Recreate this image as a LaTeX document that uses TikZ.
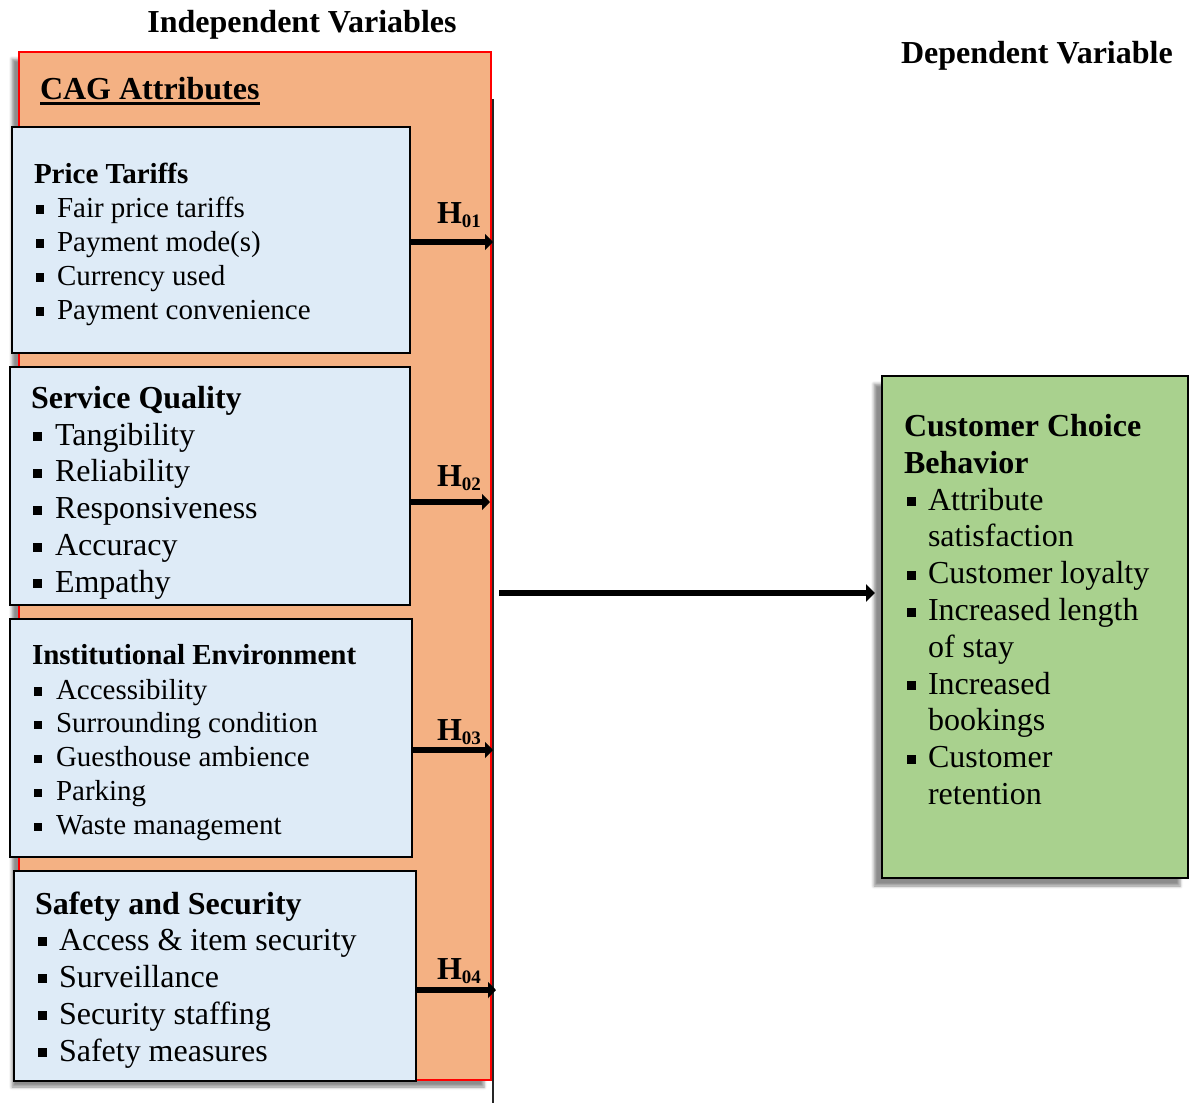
\documentclass[tikz,border=0pt]{standalone}
\usepackage{fontspec}
\setmainfont{Liberation Serif}
\usetikzlibrary{arrows.meta,shadows.blur}
\definecolor{orangefill}{HTML}{F4B183}
\definecolor{bluefill}{HTML}{DEEBF7}
\definecolor{greenfill}{HTML}{A9D18E}
\definecolor{redline}{HTML}{FF0000}
\newcommand{\bulsq}{\rule[0.12em]{0.28em}{0.28em}}
\newcommand{\hyp}[1]{\textbf{H\raisebox{-4pt}{\fontsize{19}{19}\selectfont\bfseries #1}}}
\begin{document}
\begin{tikzpicture}[x=1pt,y=-1pt,
  txt/.style={inner sep=0pt, outer sep=0pt, anchor=base west},
  sA/.style={txt, font=\fontsize{29}{34}\selectfont},
  sB/.style={txt, font=\fontsize{32}{37}\selectfont},
  hA/.style={txt, font=\fontsize{29}{34}\selectfont\bfseries},
  hB/.style={txt, font=\fontsize{32}{37}\selectfont\bfseries},
  boxbase/.style={rectangle, inner sep=0pt, outer sep=0pt, anchor=north west},
  orangebox/.style={boxbase, draw=redline, line width=2pt, fill=orangefill,
    blur shadow={shadow xshift=-7pt, shadow yshift=-7pt, shadow blur radius=3pt, shadow opacity=45}},
  bluebox/.style={boxbase, draw=black, line width=2.6pt, fill=bluefill},
  greenbox/.style={boxbase, draw=black, line width=2.8pt, fill=greenfill,
    blur shadow={shadow xshift=-8pt, shadow yshift=-8pt, shadow blur radius=3pt, shadow opacity=45}},
  harrow/.style={line width=6pt, -{Triangle[length=8pt,width=16pt]}},
  vline/.style={line width=1.3pt, black!85}
]
\useasboundingbox (0,0) rectangle (1191,1103);

% titles
\node[txt, font=\fontsize{32}{37}\selectfont\bfseries, anchor=base] (indep) at (302,32) {Independent Variables};
\node[hB] (dep) at (901,63) {Dependent Variable};

% orange container
\node[orangebox, minimum width=472pt, minimum height=1028pt] (cag) at (19,52) {};
\coordinate (vtop) at (493,99);
\coordinate (vbot) at (493,1103);
\draw[vline] (vtop) -- (vbot);

\node[hB] (cagt) at (40,99) {CAG Attributes};
\draw[line width=2.4pt] ([yshift=-4.5pt]cagt.base west) -- ([yshift=-4.5pt]cagt.base east);

% box 1
\node[bluebox, minimum width=398pt, minimum height=226pt] (b1) at (12,127) {};
\node[hA] (b1h) at (34,183) {Price Tariffs};
\foreach \t [count=\i from 0] in {Fair price tariffs, Payment mode(s), Currency used, Payment convenience}
  \node[sA] (p\i) at (36,{217+34*\i}) {\makebox[21pt][l]{\bulsq}\t};

% box 2
\node[bluebox, minimum width=400pt, minimum height=238pt] (b2) at (10,367) {};
\node[hB] (b2h) at (31,408) {Service Quality};
\foreach \t [count=\i from 0] in {Tangibility, Reliability, Responsiveness, Accuracy, Empathy}
  \node[sB] (q\i) at (33,{445+36.8*\i}) {\makebox[22pt][l]{\bulsq}\t};

% box 3
\node[bluebox, minimum width=402pt, minimum height=238pt] (b3) at (10,619) {};
\node[hA] (b3h) at (32,664) {Institutional Environment};
\foreach \t [count=\i from 0] in {Accessibility, Surrounding condition, Guesthouse ambience, Parking, Waste management}
  \node[sA] (r\i) at (34,{699+33.8*\i}) {\makebox[22pt][l]{\bulsq}\t};

% box 4
\node[bluebox, minimum width=402pt, minimum height=210pt] (b4) at (14,871) {};
\node[hB] (b4h) at (35,914) {Safety and Security};
\foreach \t [count=\i from 0] in {Access \& item security, Surveillance, Security staffing, Safety measures}
  \node[sB] (s\i) at (38,{950+37*\i}) {\makebox[21pt][l]{\bulsq}\t};

% hypotheses
\node[hB] (h1) at (437,223) {\hyp{01}};
\node[hB] (h2) at (437,486) {\hyp{02}};
\node[hB] (h3) at (437,740) {\hyp{03}};
\node[hB] (h4) at (437,979) {\hyp{04}};

\coordinate (e1) at (493,242);
\coordinate (e2) at (490,502);
\coordinate (e3) at (493,750);
\coordinate (e4) at (496,990);
\draw[harrow] (b1.east |- e1) -- (e1);
\draw[harrow] (b2.east |- e2) -- (e2);
\draw[harrow] (b3.east |- e3) -- (e3);
\draw[harrow] (b4.east |- e4) -- (e4);

% dependent box
\node[greenbox, minimum width=306pt, minimum height=502pt] (cb) at (882,376) {};
\node[hB] (g1h) at (904,436) {Customer Choice};
\node[hB] (g2h) at (904,473) {Behavior};
\foreach \b/\t [count=\i from 0] in {1/Attribute, 0/satisfaction, 1/Customer loyalty, 1/Increased length, 0/of stay, 1/Increased, 0/bookings, 1/Customer, 0/retention}
  \node[sB] (g\i) at (907,{510+36.8*\i}) {\makebox[21pt][l]{\ifnum\b=1 \bulsq\fi}\t};

% main arrow
\coordinate (ms) at (499,593);
\draw[line width=6.5pt, -{Triangle[length=9pt,width=17pt]}, shorten >=7pt] (ms) -- (cb.west |- ms);
\end{tikzpicture}
\end{document}
